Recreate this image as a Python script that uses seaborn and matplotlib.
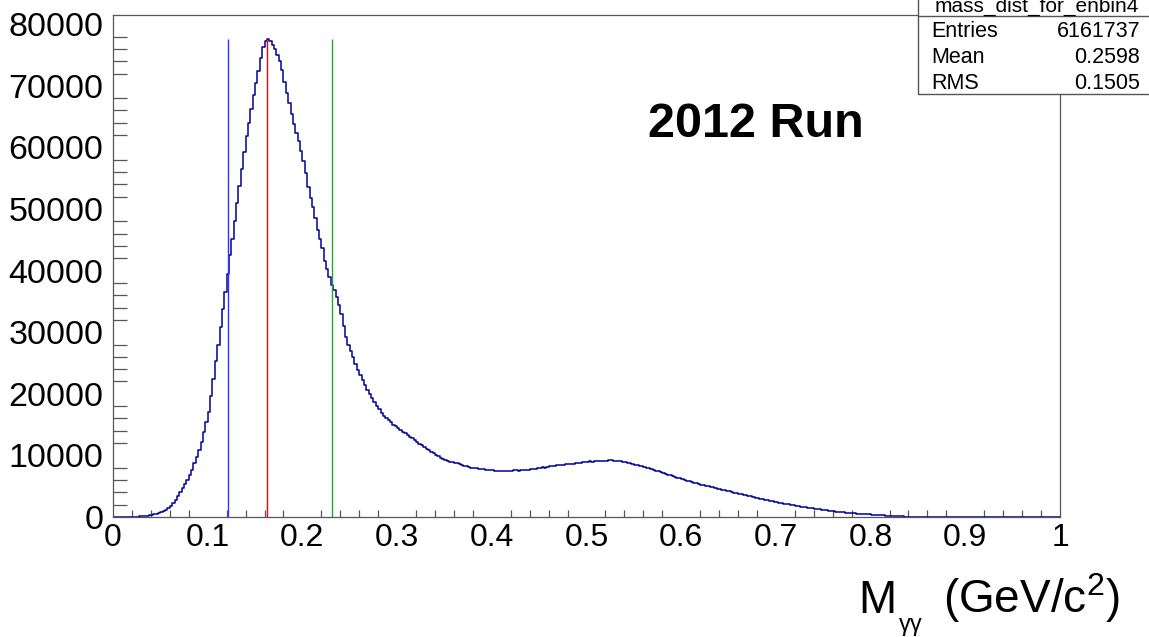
import numpy as np
import pandas as pd
import matplotlib
matplotlib.use("Agg")
import matplotlib.pyplot as plt
import seaborn as sns
from matplotlib.patches import Rectangle
from matplotlib.lines import Line2D
from matplotlib.ticker import MultipleLocator, FuncFormatter

# ---------------- data ----------------
hist_name = "mass_dist_for_enbin4"
x_min, x_max, n_bins = 0.0, 1.0, 400
stat_labels = ["Entries", "Mean", "RMS"]
stat_values = ["6161737", "0.2598", "0.1505"]
run_label = "2012 Run"
x_title_main = "M"
x_title_sub = "γγ"
x_title_unit = r"(GeV/c$^{2}$)"
cut_lines = [0.121, 0.163, 0.231]
cut_colors = ["#3030ff", "#ff0000", "#22aa22"]

counts = [
    # 0.00 - 0.05
    0, 0, 2, 5, 8, 12, 18, 25, 35, 48, 65, 85, 110, 145, 190, 250, 320, 410, 520, 650,
    # 0.05 - 0.10
    820, 980, 1200, 1480, 1820, 2250, 2800, 3400, 4000, 4650, 5300, 6000, 6800, 7700, 8700, 9800, 10900, 12100, 13800, 15500,
    # 0.10 - 0.15
    17000, 19600, 22400, 25300, 28000, 30800, 33700, 36600, 39500, 42500, 45200, 48000, 51000, 53800, 56500, 59200, 61800, 64000, 66300, 68500,
    # 0.15 - 0.20
    70500, 72400, 74500, 76300, 77300, 77620, 77200, 76700, 75900, 75000, 74000, 72600, 70700, 68800, 67200, 65500, 63800, 62300, 61000, 59400,
    # 0.20 - 0.25
    57800, 55800, 53600, 51800, 50300, 48500, 46600, 45100, 43700, 41600, 40200, 39000, 37700, 36800, 35700, 34400, 32900, 31000, 29300, 27900,
    # 0.25 - 0.30
    26900, 25900, 24800, 23900, 23100, 22300, 21400, 20600, 19900, 19300, 18700, 18100, 17500, 16900, 16400, 16000, 15700, 15400, 15000, 14700,
    # 0.30 - 0.35
    14400, 14100, 13850, 13600, 13350, 13050, 12750, 12450, 12150, 11900, 11650, 11400, 11100, 10850, 10600, 10350, 10100, 9850, 9650, 9450,
    # 0.35 - 0.40
    9250, 9100, 8980, 8880, 8800, 8720, 8600, 8450, 8320, 8220, 8100, 8000, 7950, 7880, 7820, 7780, 7750, 7700, 7680, 7620,
    # 0.40 - 0.45
    7580, 7520, 7470, 7530, 7420, 7500, 7480, 7520, 7460, 7560, 7580, 7540, 7620, 7600, 7700, 7680, 7720, 7780, 7800, 7880,
    # 0.45 - 0.50
    7950, 8050, 8020, 8150, 8250, 8200, 8350, 8400, 8380, 8480, 8520, 8560, 8620, 8680, 8650, 8780, 8820, 8760, 8880, 8920,
    # 0.50 - 0.55
    8980, 9050, 8950, 9080, 9060, 9120, 9030, 9150, 9100, 9200, 9180, 9080, 9120, 9060, 9100, 8980, 8880, 8780, 8700, 8600,
    # 0.55 - 0.60
    8520, 8420, 8300, 8200, 8080, 7980, 7880, 7760, 7640, 7520, 7400, 7280, 7150, 7020, 6800, 6820, 6650, 6520, 6400, 6260,
    # 0.60 - 0.65
    6150, 6020, 5920, 5820, 5700, 5600, 5480, 5380, 5270, 5180, 5080, 4980, 4880, 4790, 4700, 4600, 4500, 4420, 4330, 4240,
    # 0.65 - 0.70
    4150, 4060, 3970, 3880, 3780, 3690, 3600, 3510, 3420, 3330, 3240, 3150, 3060, 2980, 2900, 2820, 2740, 2660, 2580, 2500,
    # 0.70 - 0.75
    2420, 2340, 2260, 2180, 2100, 2030, 1960, 1890, 1820, 1750, 1680, 1620, 1560, 1500, 1440, 1390, 1340, 1290, 1240, 1190,
    # 0.75 - 0.80
    1140, 1090, 1040, 990, 940, 890, 840, 800, 760, 720, 680, 650, 620, 590, 560, 530, 500, 470, 440, 410,
    # 0.80 - 0.85
    390, 360, 330, 300, 275, 250, 225, 200, 180, 160, 140, 125, 110, 95, 80, 68, 56, 46, 38, 30,
    # 0.85 - 0.90
    24, 19, 15, 12, 9, 7, 5, 4, 3, 2, 2, 1, 1, 1, 0, 0, 0, 0, 0, 0,
    # 0.90 - 0.95
    0, 0, 0, 0, 0, 0, 0, 0, 0, 0, 0, 0, 0, 0, 0, 0, 0, 0, 0, 0,
    # 0.95 - 1.00
    0, 0, 0, 0, 0, 0, 0, 0, 0, 0, 0, 0, 0, 0, 0, 0, 0, 0, 0, 0,
]

# ---------------- style ----------------
sns.set_style("white")
plt.rcParams["font.family"] = ["Liberation Sans", "DejaVu Sans"]
plt.rcParams["mathtext.fontset"] = "custom"
plt.rcParams["mathtext.rm"] = "Liberation Sans"
plt.rcParams["mathtext.it"] = "Liberation Sans:italic"
plt.rcParams["mathtext.bf"] = "Liberation Sans:bold"
plt.rcParams["text.color"] = "black"
plt.rcParams["xtick.labelcolor"] = "black"
plt.rcParams["ytick.labelcolor"] = "black"

W, H = 1149, 637
fig = plt.figure(figsize=(W / 100, H / 100), dpi=100)
ax = fig.add_axes([113 / W, 1 - 517 / H, (1060 - 113) / W, (517 - 15) / H])

bin_w = (x_max - x_min) / n_bins
centers = x_min + bin_w * (np.arange(n_bins) + 0.5)
df = pd.DataFrame({"mass": centers, "count": np.asarray(counts, dtype=float)})

sns.histplot(data=df, x="mass", weights="count", bins=n_bins, binrange=(x_min, x_max),
             element="step", fill=False, color="#000099", linewidth=1.1, ax=ax)

peak = df["count"].max()
for xc, col in zip(cut_lines, cut_colors):
    ax.vlines(xc, 0, peak, colors=col, linewidth=1.0, zorder=3)

ax.set_xlim(x_min, x_max)
ax.set_ylim(0, 1.05 * peak)
ax.set_ylabel("")
ax.set_xlabel("")

ax.xaxis.set_major_locator(MultipleLocator(0.1))
ax.xaxis.set_minor_locator(MultipleLocator(0.02))
ax.yaxis.set_major_locator(MultipleLocator(10000))
ax.yaxis.set_minor_locator(MultipleLocator(2000))
ax.xaxis.set_major_formatter(FuncFormatter(lambda v, p: f"{v:g}"))
ax.yaxis.set_major_formatter(FuncFormatter(lambda v, p: f"{int(round(v))}"))

ax.tick_params(axis="x", which="major", direction="in", length=10, width=0.9,
               color="#555555", labelsize=23, pad=4, top=False, labelcolor="black")
ax.tick_params(axis="x", which="minor", direction="in", length=5, width=0.9,
               color="#555555", top=False, bottom=True)
ax.tick_params(axis="y", which="major", direction="in", length=20, width=0.9,
               color="#555555", labelsize=24.5, pad=7, right=False, labelcolor="black")
ax.tick_params(axis="y", which="minor", direction="in", length=10, width=0.9,
               color="#555555", right=False, left=True)

for sp in ax.spines.values():
    sp.set_visible(True)
    sp.set_color("#555555")
    sp.set_linewidth(0.9)

# axis title pieces: M, subscript gamma-gamma, unit
fig.text(858 / W, 1 - 613 / H, x_title_main, fontsize=33, ha="left", va="baseline")
fig.text(899 / W, 1 - 631 / H, x_title_sub, fontsize=17, ha="left", va="baseline")
fig.text(1120 / W, 1 - 613 / H, x_title_unit, fontsize=33, ha="right", va="baseline")

# "2012 Run"
fig.text(756 / W, 1 - 137 / H, run_label, fontsize=35,
         fontweight="bold", ha="center", va="baseline", color="black")

# stats box
bx0, by0 = 918, 94
fig.add_artist(Rectangle((bx0 / W, 1 - by0 / H), (W - bx0 + 5) / W, (by0 + 5) / H,
                         transform=fig.transFigure, facecolor="white",
                         edgecolor="#555555", linewidth=1.0, zorder=10))
fig.add_artist(Line2D([bx0 / W, 1.0], [1 - 16 / H, 1 - 16 / H], transform=fig.transFigure,
                      color="#555555", linewidth=1.0, zorder=11))
fig.text(1037 / W, 1 - 12 / H, hist_name, fontsize=15, ha="center", va="baseline", zorder=12)
for i, (lab, val) in enumerate(zip(stat_labels, stat_values)):
    yb = [36.7, 63.3, 88.7][i]
    fig.text(931 / W, 1 - yb / H, lab, fontsize=15.5, ha="left", va="baseline", zorder=12)
    fig.text(1140 / W, 1 - yb / H, val, fontsize=15.5, ha="right", va="baseline", zorder=12)

fig.savefig("out.png", dpi=100)
